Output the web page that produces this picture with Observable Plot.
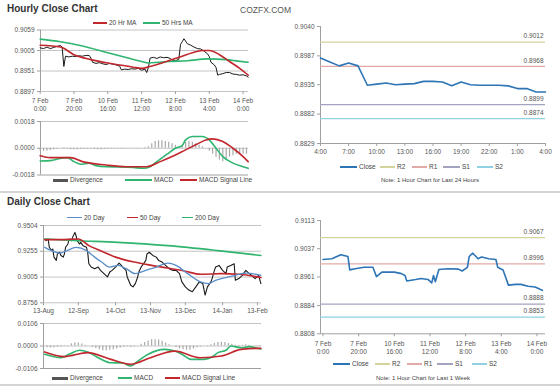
<!DOCTYPE html>
<html><head><meta charset="utf-8">
<script src="https://cdn.jsdelivr.net/npm/d3@7"></script>
<script src="https://cdn.jsdelivr.net/npm/@observablehq/plot@0.6"></script>
<style>
html,body{margin:0;padding:0;background:#fff;}
#root{position:relative;width:560px;height:386px;overflow:hidden;background:#fff;font-family:"Liberation Sans",Arial,Helvetica,sans-serif;}
.t{position:absolute;line-height:1;white-space:nowrap;transform:translateY(-50%);}
.title{font-size:10px;font-weight:bold;color:#333;}
.brand{font-size:8.5px;color:#555;}
.lg{font-size:6.5px;color:#444;}
.note{font-size:6px;color:#444;transform:translate(-50%,-50%);}
.sw{position:absolute;}
.sep{position:absolute;left:0;width:560px;height:2px;background:#d4d4d4;}
</style></head>
<body><div id="root"></div>
<script>
// ===== Hourly close chart (hour index over the last week) =====
const hourlyTickPos = [0, 20, 40, 60, 80, 100, 120];
const hourlyTickLabels = ["7 Feb\n0:00", "7 Feb\n20:00", "10 Feb\n16:00", "11 Feb\n12:00", "12 Feb\n8:00", "13 Feb\n4:00", "14 Feb\n0:00"];
const hourlyPriceTicks = [0.9059, 0.9005, 0.8951, 0.8897];
const hourIdx = [0,2,4,6,8,10,12,13,14,15,17,19,21,23,25,27,29,30,31,33,35,37,39,41,43,45,47,48,50,52,54,56,58,60,62,63,64,65,67,69,71,73,75,77,78,80,82,83,84,85,86,87,89,91,93,95,97,99,100,101,103,104,105,106,108,110,112,114,116,118,120,122,123];
const hourClose = [0.9012,0.9010,0.9014,0.9010,0.9013,0.9016,0.9018,0.9014,0.8963,0.8990,0.8988,0.8990,0.8989,0.8991,0.8990,0.8992,0.8992,0.8985,0.8974,0.8971,0.8973,0.8970,0.8968,0.8971,0.8969,0.8967,0.8964,0.8954,0.8956,0.8955,0.8957,0.8956,0.8958,0.8953,0.8956,0.8947,0.8960,0.8985,0.8987,0.8984,0.8988,0.8986,0.8987,0.8984,0.8980,0.8978,0.8982,0.9021,0.9028,0.9036,0.9030,0.9023,0.9019,0.9014,0.9010,0.9009,0.9003,0.8996,0.8989,0.8974,0.8967,0.8960,0.8940,0.8942,0.8944,0.8947,0.8947,0.8943,0.8942,0.8940,0.8941,0.8938,0.8935];
const ma20HrIdx = [0,12,20,30,40,47,55,60,65,72,78,84,90,96,100,106,112,118,123];
const ma20Hr = [0.9019,0.9014,0.8994,0.8981,0.8972,0.8967,0.8961,0.8958,0.8963,0.8972,0.8981,0.8990,0.8999,0.9005,0.9005,0.8994,0.8976,0.8958,0.8940];
const ma50HrIdx = [0,12,25,40,52,60,64,70,76,87,99,110,117,123];
const ma50Hr = [0.9035,0.9028,0.9017,0.8999,0.8985,0.8976,0.8972,0.8974,0.8976,0.8978,0.8983,0.8981,0.8977,0.8974];
const hourlyMacdTicks = [0.0018, 0.0000, -0.0018];
const hMacdIdx = [0,6,12,16,20,24,29,33,39,47,55,61,65,69,75,80,84,86,90,96,100,104,108,114,120,123];
const hMacd = [-0.00086,-0.00083,-0.00068,-0.00063,-0.0009,-0.00108,-0.001,-0.00117,-0.00124,-0.00126,-0.0013,-0.00135,-0.00124,-0.0009,-0.0004,0,0.00018,0.00056,0.00079,0.00079,0.00056,0,-0.00056,-0.001,-0.00124,-0.00135];
const hSignalIdx = [0,6,12,18,25,39,51,63,71,78,86,92,98,102,108,114,120,123];
const hSignal = [-0.0005,-0.00063,-0.00063,-0.00063,-0.0009,-0.00113,-0.00124,-0.00124,-0.0009,-0.00056,-0.00011,0.00023,0.00056,0.00063,0.00045,0,-0.00056,-0.0009];
const hDivIdx = d3.range(0, 123, 2);
const hDiv = [-0.0002,-0.0002,-0.0002,-0.00015,-0.0001,-0.00005,0,0.00005,-0.00005,-0.0001,-0.0001,-0.0001,-0.00008,-0.00005,-0.00005,-0.00005,-0.00008,-0.0001,-0.0001,-0.00008,-0.00005,-0.00003,-0.00003,-0.00003,-0.00003,-0.00002,-0.00002,-0.00002,-0.00002,-0.00002,0,0.00005,0.0001,0.0003,0.00045,0.0005,0.0005,0.00045,0.0004,0.0003,0.0002,0.00005,0.0002,0.0004,0.00045,0.0004,0.0003,0.0002,0.0001,0,-0.0002,-0.0004,-0.0006,-0.0008,-0.0009,-0.0008,-0.0006,-0.0005,-0.0004,-0.0004,-0.0004,-0.0004];

// ===== Last 24 hours (top right) =====
const dayHourPos = [0,3,6,9,12,15,18,21,24];
const dayHourLabels = ["4:00","7:00","10:00","13:00","16:00","19:00","22:00","1:00","4:00"];
const dayHourIdx = [0,1,2,3,4,5,6,7,8,9,10,11,12,13,14,15,16,17,18,19,20,21,22,23,24];
const dayHourClose = [0.8983,0.8976,0.8969,0.8974,0.8969,0.8934,0.8936,0.8938,0.8935,0.8936,0.8937,0.8941,0.8941,0.8940,0.8933,0.8940,0.8935,0.8934,0.8934,0.8934,0.8933,0.8928,0.8928,0.8922,0.8922];
const dayPriceTicks = [0.9040, 0.8987, 0.8935, 0.8882, 0.8829];
const pivotNames = ["R2", "R1", "S1", "S2"];
const dayPivots = [0.9012, 0.8968, 0.8899, 0.8874];

// ===== Daily close chart (days since 13 Aug 2013) =====
const dailyTickDates = ["2013-08-13","2013-09-12","2013-10-14","2013-11-13","2013-12-13","2014-01-14","2014-02-13"];
const dailyPriceTicks = [0.9504, 0.9255, 0.9005, 0.8756];
const dCloseDay = [2,4,5,7,8,9,11,12,14,15,17,18,19,21,22,24,25,27,28,29,31,32,34,37,38,39,41,44,47,49,52,55,57,59,62,65,67,68,71,72,75,77,79,81,82,84,85,87,88,89,91,94,97,99,102,105,108,111,114,117,119,122,125,128,131,134,137,139,141,144,145,147,148,151,154,157,158,161,164,165,168,171,174,177,179,182,185,187];
const dClose = [0.9357,0.9373,0.9293,0.9261,0.9277,0.9198,0.9166,0.9229,0.9245,0.9214,0.9198,0.9229,0.9293,0.9325,0.9373,0.9357,0.9389,0.9437,0.9405,0.9357,0.9325,0.9341,0.9309,0.9293,0.9245,0.9134,0.9102,0.9086,0.9102,0.9070,0.9038,0.9006,0.9054,0.9070,0.9102,0.9140,0.9118,0.9102,0.9070,0.9006,0.8926,0.8910,0.8942,0.9006,0.9054,0.9102,0.9118,0.9150,0.9166,0.9229,0.9245,0.9214,0.9198,0.9166,0.9150,0.9118,0.9086,0.9070,0.9070,0.9038,0.8958,0.8910,0.8879,0.8863,0.8910,0.8958,0.8942,0.8831,0.8910,0.8958,0.8990,0.9070,0.9102,0.9118,0.9070,0.9038,0.9102,0.9118,0.9134,0.8974,0.8990,0.9022,0.9070,0.9038,0.9022,0.8990,0.9022,0.8942];
const ma20DDay = [1,8,14,19,28,37,44,50,57,64,71,79,88,97,107,114,124,135,142,148,157,165,174,179,187];
const ma20D = [0.9293,0.9255,0.9236,0.9255,0.9293,0.9261,0.9198,0.9150,0.9102,0.9118,0.9086,0.9038,0.9070,0.9102,0.9140,0.9118,0.9038,0.8958,0.8942,0.8974,0.8999,0.9022,0.9044,0.9038,0.9022];
const ma50DDay = [1,14,30,39,50,62,78,93,107,121,135,153,168,187];
const ma50D = [0.9367,0.9367,0.9373,0.9309,0.9255,0.9198,0.9150,0.9118,0.9092,0.9064,0.9032,0.9038,0.9032,0.9000];
const ma200DDay = [1,30,64,107,150,187];
const ma200D = [0.9373,0.9357,0.9341,0.9309,0.9261,0.9214];
const dailyMacdTicks = [0.0106, 0.0000, -0.0106];
const dMacdDay = [1,15,22,31,39,47,58,68,75,82,90,104,113,120,127,138,145,150,157,161,170,177,184,187];
const dMacd = [-0.0039,-0.0055,-0.0039,-0.0020,-0.0031,-0.0055,-0.0079,-0.0080,-0.0094,-0.0068,-0.0039,-0.0016,-0.0024,-0.0042,-0.0063,-0.0063,-0.0052,-0.0031,-0.0020,0.0000,-0.0008,-0.0003,-0.0011,-0.0014];
const dSignalDay = [1,18,38,58,75,92,113,135,153,170,184,187];
const dSignal = [-0.0028,-0.0050,-0.0031,-0.0063,-0.0086,-0.0055,-0.0024,-0.0055,-0.0047,-0.0016,-0.0011,-0.0011];
const dDivDay = d3.range(0, 187, 3);
const dDiv = [-0.0006,-0.0008,-0.0009,-0.0008,-0.0006,-0.0004,-0.0002,0.0002,0.0010,0.0015,0.0014,0.0010,0.0004,0.0000,-0.0006,-0.0012,-0.0018,-0.0022,-0.0022,-0.0020,-0.0018,-0.0014,-0.0010,-0.0006,-0.0004,-0.0006,-0.0004,0.0000,0.0008,0.0016,0.0024,0.0030,0.0030,0.0028,0.0022,0.0014,0.0006,0.0000,-0.0008,-0.0014,-0.0018,-0.0020,-0.0020,-0.0014,-0.0008,-0.0004,0.0000,0.0002,0.0006,0.0012,0.0016,0.0018,0.0016,0.0012,0.0008,0.0004,0.0002,0.0004,0.0006,0.0004,0.0000,-0.0002,-0.0003];

// ===== Last week hourly (bottom right) =====
const weekIdx = [0,5,10,14,15,18,23,28,30,33,40,44,46,47,52,55,59,61,62,63,65,70,76,78,81,82,84,87,89,93,97,98,101,104,108,111,115,119,122,123];
const weekClose = [0.9008,0.9010,0.9021,0.9016,0.8980,0.8983,0.8987,0.8987,0.8962,0.8974,0.8974,0.8970,0.8965,0.8950,0.8954,0.8957,0.8954,0.8945,0.8965,0.8948,0.8981,0.8983,0.8982,0.8977,0.8987,0.9016,0.9025,0.9010,0.9015,0.9010,0.9008,0.8987,0.8980,0.8939,0.8941,0.8941,0.8936,0.8934,0.8927,0.8925];
const weekPriceTicks = [0.9113, 0.9037, 0.8961, 0.8884, 0.8808];
const weekPivots = [0.9067, 0.8996, 0.8888, 0.8853];

// ===== drawing =====
const root = document.getElementById("root");
const FONT = "'Liberation Sans', Arial, Helvetica, sans-serif";
const baseStyle = {fontSize: "6.5px", fontFamily: FONT, color: "#555", background: "transparent", overflow: "visible"};
const fmt4 = d => d.toFixed(4);
const GRID = "#c4c4c4", AXIS = "#a0a0a0";
const RED = "#c1272d", GREEN = "#2fb56f", STEEL = "#5b8ec9", BLUE = "#2e75b6", BLACK = "#1a1a1a", BAR = "#a8a8a8";
const PIV = ["#d3d39c", "#e3a9a9", "#a3a3bf", "#8fd0e2"];

function put(svg, left, top) {
  svg.style.position = "absolute"; svg.style.left = left + "px"; svg.style.top = top + "px";
  root.appendChild(svg);
}
function txt(s, x, y, cls) {
  const d = document.createElement("div"); d.className = "t " + cls; d.textContent = s;
  d.style.left = x + "px"; d.style.top = y + "px"; root.appendChild(d);
}
function sw(x1, x2, y, color, w) {
  const d = document.createElement("div"); d.className = "sw";
  Object.assign(d.style, {left: x1 + "px", top: (y - w / 2) + "px", width: (x2 - x1) + "px", height: w + "px", background: color});
  root.appendChild(d);
}
const byIdx = (arr) => (d, i) => arr[i];

// Panel 1: hourly price
const hx = {domain: [0.2, 123.2], label: null};
put(Plot.plot({
  width: 260, height: 100, marginLeft: 40, marginRight: 12, marginTop: 14.5, marginBottom: 24,
  style: baseStyle, x: hx, y: {domain: [0.8897, 0.9059], label: null},
  marks: [
    Plot.ruleY(hourlyPriceTicks, {stroke: GRID}),
    Plot.ruleX([0.2], {stroke: AXIS}),
    Plot.axisY(hourlyPriceTicks, {tickFormat: fmt4, tickSize: 3, tickPadding: 3, stroke: AXIS}),
    Plot.axisX(hourlyTickPos, {tickFormat: d => hourlyTickLabels[hourlyTickPos.indexOf(d)], tickSize: 3, tickPadding: 3, stroke: AXIS, lineHeight: 1.25}),
    Plot.line(hourIdx, {x: d => d, y: byIdx(hourClose), stroke: BLACK, strokeWidth: 1}),
    Plot.line(ma50HrIdx, {x: d => d, y: byIdx(ma50Hr), stroke: GREEN, strokeWidth: 1.6, curve: "monotone-x"}),
    Plot.line(ma20HrIdx, {x: d => d, y: byIdx(ma20Hr), stroke: RED, strokeWidth: 1.6, curve: "monotone-x"})
  ]
}), 0, 15);

// Panel 2: hourly MACD
put(Plot.plot({
  width: 260, height: 70, marginLeft: 40, marginRight: 12, marginTop: 6, marginBottom: 10.5,
  style: baseStyle, x: {...hx, axis: null}, y: {domain: [-0.0018, 0.0018], label: null},
  marks: [
    Plot.ruleY([0.0018, 0], {stroke: GRID}),
    Plot.ruleY([-0.0018], {stroke: AXIS}),
    Plot.ruleX([0.2], {stroke: AXIS}),
    Plot.axisY(hourlyMacdTicks, {tickFormat: fmt4, tickSize: 3, tickPadding: 3, stroke: AXIS}),
    Plot.ruleX(hDivIdx, {x: d => d, y1: 0, y2: byIdx(hDiv), stroke: BAR, strokeWidth: 1.2}),
    Plot.line(hMacdIdx, {x: d => d, y: byIdx(hMacd), stroke: GREEN, strokeWidth: 1.6, curve: "monotone-x"}),
    Plot.line(hSignalIdx, {x: d => d, y: byIdx(hSignal), stroke: RED, strokeWidth: 1.6, curve: "monotone-x"})
  ]
}), 0, 115);

// Panel 3: last 24 hours
put(Plot.plot({
  width: 280, height: 145, marginLeft: 40, marginRight: 15, marginTop: 8, marginBottom: 20,
  style: baseStyle, x: {domain: [0, 24], label: null}, y: {domain: [0.8829, 0.9040], label: null},
  marks: [
    Plot.ruleX([0], {stroke: AXIS}),
    Plot.ruleY([0.8829], {stroke: AXIS}),
    Plot.axisY(dayPriceTicks, {tickFormat: fmt4, tickSize: 3, tickPadding: 3, stroke: AXIS}),
    Plot.axisX(dayHourPos, {tickFormat: d => dayHourLabels[dayHourPos.indexOf(d)], tickSize: 3, tickPadding: 3, stroke: AXIS}),
    Plot.ruleY(dayPivots, {y: d => d, stroke: (d, i) => PIV[i], strokeWidth: 1.2}),
    Plot.text(dayPivots, {y: d => d, text: fmt4, frameAnchor: "right", textAnchor: "end", dx: -2, dy: -6, fill: "#555"}),
    Plot.line(dayHourIdx, {x: d => d, y: byIdx(dayHourClose), stroke: BLUE, strokeWidth: 1.6})
  ]
}), 280, 18);

// Panel 4: daily price
const day0 = new Date(Date.UTC(2013, 7, 13));
const toDate = d => new Date(day0.getTime() + d * 864e5);
const dx = {type: "utc", domain: [day0, toDate(187.5)], label: null};
const tickDates = dailyTickDates.map(s => new Date(s + "T00:00:00Z"));
put(Plot.plot({
  width: 270, height: 101, marginLeft: 43, marginRight: 9, marginTop: 6, marginBottom: 17.7,
  style: baseStyle, x: dx, y: {domain: [0.8756, 0.9504], label: null},
  marks: [
    Plot.ruleY(dailyPriceTicks, {stroke: GRID}),
    Plot.ruleX([day0], {stroke: AXIS}),
    Plot.axisY(dailyPriceTicks, {tickFormat: fmt4, tickSize: 3, tickPadding: 3, stroke: AXIS}),
    Plot.axisX(tickDates, {tickFormat: d3.utcFormat("%d-%b"), tickSize: 3, tickPadding: 3, stroke: AXIS}),
    Plot.line(dCloseDay, {x: d => toDate(d), y: byIdx(dClose), stroke: BLACK, strokeWidth: 1.1}),
    Plot.line(ma200DDay, {x: d => toDate(d), y: byIdx(ma200D), stroke: GREEN, strokeWidth: 1.6, curve: "monotone-x"}),
    Plot.line(ma50DDay, {x: d => toDate(d), y: byIdx(ma50D), stroke: RED, strokeWidth: 1.6, curve: "monotone-x"}),
    Plot.line(ma20DDay, {x: d => toDate(d), y: byIdx(ma20D), stroke: STEEL, strokeWidth: 1.3, curve: "monotone-x"})
  ]
}), 0, 219);

// Panel 5: daily MACD
put(Plot.plot({
  width: 270, height: 52, marginLeft: 43, marginRight: 9, marginTop: 3, marginBottom: 4,
  style: baseStyle, x: {...dx, axis: null}, y: {domain: [-0.0106, 0.0106], label: null},
  marks: [
    Plot.ruleY([0.0106, 0], {stroke: GRID}),
    Plot.ruleY([-0.0106], {stroke: AXIS}),
    Plot.ruleX([day0], {stroke: AXIS}),
    Plot.axisY(dailyMacdTicks, {tickFormat: fmt4, tickSize: 3, tickPadding: 3, stroke: AXIS}),
    Plot.ruleX(dDivDay, {x: d => toDate(d), y1: 0, y2: byIdx(dDiv), stroke: BAR, strokeWidth: 1.2}),
    Plot.line(dMacdDay, {x: d => toDate(d), y: byIdx(dMacd), stroke: GREEN, strokeWidth: 1.6, curve: "monotone-x"}),
    Plot.line(dSignalDay, {x: d => toDate(d), y: byIdx(dSignal), stroke: RED, strokeWidth: 1.6, curve: "monotone-x"})
  ]
}), 0, 320);

// Panel 6: last week hourly
put(Plot.plot({
  width: 280, height: 140, marginLeft: 40, marginRight: 15, marginTop: 7, marginBottom: 19.7,
  style: baseStyle, x: {domain: [-1.4, 124.8], label: null}, y: {domain: [0.8808, 0.9113], label: null},
  marks: [
    Plot.ruleX([-1.4], {stroke: AXIS}),
    Plot.ruleY([0.8808], {stroke: AXIS}),
    Plot.axisY(weekPriceTicks, {tickFormat: fmt4, tickSize: 3, tickPadding: 3, stroke: AXIS}),
    Plot.axisX(hourlyTickPos, {tickFormat: d => hourlyTickLabels[hourlyTickPos.indexOf(d)], tickSize: 3, tickPadding: 3, stroke: AXIS, lineHeight: 1.25}),
    Plot.ruleY(weekPivots, {y: d => d, stroke: (d, i) => PIV[i], strokeWidth: 1.2}),
    Plot.text(weekPivots, {y: d => d, text: fmt4, frameAnchor: "right", textAnchor: "end", dx: -2, dy: -6, fill: "#555"}),
    Plot.line(weekIdx, {x: d => d, y: byIdx(weekClose), stroke: BLUE, strokeWidth: 1.6})
  ]
}), 280, 213);

// separators
[191, 384].forEach(y => { const d = document.createElement("div"); d.className = "sep"; d.style.top = y + "px"; root.appendChild(d); });

// titles
txt("Hourly Close Chart", 7, 9, "title");
txt("COZFX.COM", 240, 10, "brand");
txt("Daily Close Chart", 7, 201.5, "title");

// legends: hourly price
sw(93, 107, 23, RED, 1.5); txt("20 Hr MA", 109, 23, "lg");
sw(143, 160, 23, GREEN, 1.5); txt("50 Hrs MA", 162, 23, "lg");
// hourly MACD
sw(53, 68, 180, "#555", 3); txt("Divergence", 70, 180, "lg");
sw(125, 152, 180, GREEN, 1.5); txt("MACD", 154, 180, "lg");
sw(180, 197, 180, RED, 1.5); txt("MACD Signal Line", 199, 180, "lg");
// top right
sw(340, 357, 167, BLUE, 1.5); txt("Close", 359, 167, "lg");
[[380, 395], [412, 427], [443, 460], [477, 493]].forEach((p, i) => { sw(p[0], p[1], 167, PIV[i], 1.5); txt(pivotNames[i], p[1] + 2, 167, "lg"); });
txt("Note: 1 Hour Chart for Last 24 Hours", 430, 180, "note");
// daily price
sw(67, 82, 217.5, STEEL, 1.5); txt("20 Day", 84, 217.5, "lg");
sw(127, 138, 217.5, RED, 1.5); txt("50 Day", 140, 217.5, "lg");
sw(182, 193, 217.5, GREEN, 1.5); txt("200 Day", 195, 217.5, "lg");
// daily MACD
sw(52, 68, 378, "#555", 3); txt("Divergence", 70, 378, "lg");
sw(118, 132, 378, GREEN, 1.5); txt("MACD", 134, 378, "lg");
sw(165, 180, 378, RED, 1.5); txt("MACD Signal Line", 182, 378, "lg");
// bottom right
sw(333, 350, 364, BLUE, 1.5); txt("Close", 352, 364, "lg");
[[375, 390], [407, 422], [437, 453], [472, 487]].forEach((p, i) => { sw(p[0], p[1], 364, PIV[i], 1.5); txt(pivotNames[i], p[1] + 2, 364, "lg"); });
txt("Note: 1 Hour Chart for Last 1 Week", 423, 378, "note");
</script></body></html>
